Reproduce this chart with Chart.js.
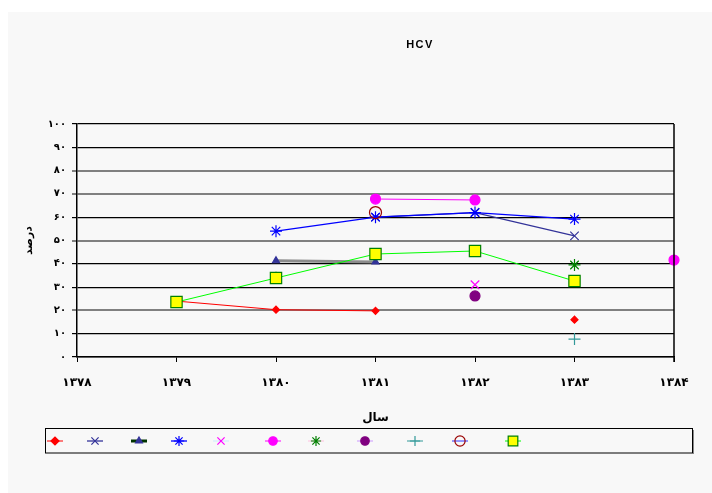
<!DOCTYPE html>
<html>
<head>
<meta charset="utf-8">
<script src="https://cdn.jsdelivr.net/npm/chart.js@4"></script>
<style>
html,body{margin:0;padding:0;background:#fff;}
#wrap{width:712px;height:493px;position:relative;}
</style>
</head>
<body>
<div id="wrap"><canvas id="c" width="712" height="493"></canvas></div>
<script>
const years = ['۱۳۷۸','۱۳۷۹','۱۳۸۰','۱۳۸۱','۱۳۸۲','۱۳۸۳','۱۳۸۴'];
const yTickLabels = {0:'۰',10:'۱۰',20:'۲۰',30:'۳۰',40:'۴۰',50:'۵۰',60:'۶۰',70:'۷۰',80:'۸۰',90:'۹۰',100:'۱۰۰'};
const chartTitle = 'HCV';
const yTitle = 'درصد';
const xTitle = 'سال';

const sRedDiamond   = [null, 24, 20.3, 19.8, null, 16, null];
const sNavyX        = [null, null, null, 60, 62, 52, null];
const sTriangle     = [null, null, 41.3, 40.8, null, null, null];
const sBlueStar     = [null, null, 54, 60, 62, 59.2, null];
const sMagentaX     = [null, null, null, null, 31, null, null];
const sMagentaDot   = [null, null, null, 67.8, 67.4, null, 41.6];
const sGreenStar    = [null, null, 34, null, null, 39.5, null];
const sPurpleDot    = [null, null, null, null, 26.2, null, null];
const sTealPlus     = [null, null, null, null, null, 7.7, null];
const sOpenCircle   = [null, null, null, 62, null, null, null];
const sYellowSquare = [null, 23.6, 33.9, 44.2, 45.5, 32.6, null];

function ds(data, o) {
  return Object.assign({
    data: data, spanGaps: false, fill: false, tension: 0,
    borderWidth: 1, pointBorderWidth: 1.2, pointHoverRadius: 0
  }, o);
}
const datasets = [
  ds(sRedDiamond,   {borderColor:'#ff0000', pointStyle:'rectRot', pointRadius:3.5, pointBackgroundColor:'#ff0000', pointBorderColor:'#ff0000'}),
  ds(sNavyX,        {borderColor:'#333399', borderWidth:1.3, pointStyle:'crossRot', pointRadius:6, pointBackgroundColor:'#333399', pointBorderColor:'#333399'}),
  ds(sTriangle,     {borderColor:'#8c8c8c', legendLine:'#003300', borderWidth:3, pointStyle:'triangle', pointRadius:4, pointBackgroundColor:'#333399', pointBorderColor:'#333399'}),
  ds(sBlueStar,     {borderColor:'#0000ff', borderWidth:1.3, pointStyle:'star', pointRadius:6, pointBackgroundColor:'#0000ff', pointBorderColor:'#0000ff'}),
  ds(sMagentaX,     {borderColor:'#cce8ff', pointStyle:'crossRot', pointRadius:6, pointBackgroundColor:'#ff00ff', pointBorderColor:'#ff00ff'}),
  ds(sMagentaDot,   {borderColor:'#ff00ff', pointStyle:'circle', pointRadius:5, pointBackgroundColor:'#ff00ff', pointBorderColor:'#ff00ff'}),
  ds(sGreenStar,    {borderColor:'#ffc0e0', pointStyle:'star', pointRadius:6, pointBackgroundColor:'#008000', pointBorderColor:'#008000'}),
  ds(sPurpleDot,    {borderColor:'#cc99ff', pointStyle:'circle', pointRadius:5, pointBackgroundColor:'#800080', pointBorderColor:'#800080'}),
  ds(sTealPlus,     {borderColor:'#339999', pointStyle:'cross', pointRadius:6, pointBackgroundColor:'#339999', pointBorderColor:'#339999'}),
  ds(sOpenCircle,   {borderColor:'#3333ff', pointStyle:'circle', pointRadius:6, pointBackgroundColor:'rgba(0,0,0,0)', pointBorderColor:'#990000'}),
  ds(sYellowSquare, {borderColor:'#00ff00', pointStyle:'rect', pointRadius:8, pointBackgroundColor:'#ffff00', pointBorderColor:'#008000'})
];
datasets.forEach((d, i) => { d.order = datasets.length - i; });

const bgPlugin = {
  id: 'bg',
  beforeDraw(chart) {
    const ctx = chart.ctx;
    ctx.save();
    ctx.fillStyle = '#f8f8f8';
    ctx.fillRect(8, 12, chart.width - 8, chart.height - 12);
    ctx.fillStyle = '#000';
    ctx.font = "bold 11px 'Liberation Sans', Arial, sans-serif";
    ctx.textAlign = 'center';
    ctx.textBaseline = 'middle';
    try { ctx.letterSpacing = '1.5px'; } catch (e) {}
    ctx.fillText(chartTitle, 420, 45);
    ctx.restore();
    try { chart.ctx.letterSpacing = '0px'; } catch (e) {}
  },
  afterDatasetsDraw(chart) {
    const a = chart.chartArea, ctx = chart.ctx;
    ctx.save();
    ctx.strokeStyle = '#000';
    ctx.lineWidth = 1.5;
    ctx.beginPath();
    ctx.moveTo(a.right, a.top); ctx.lineTo(a.right, a.bottom + 5);
    ctx.stroke();
    ctx.restore();
  }
};

const legendX = [55, 95, 139, 179, 221, 273, 316, 365, 415, 460, 513];
const legendPlugin = {
  id: 'boxLegend',
  afterDraw(chart) {
    const ctx = chart.ctx;
    ctx.save();
    ctx.strokeStyle = '#000';
    ctx.lineWidth = 1;
    ctx.strokeRect(45.5, 428.5, 647, 24.5);
    ctx.strokeStyle = '#888';
    ctx.beginPath(); ctx.moveTo(693.5, 430); ctx.lineTo(693.5, 454); ctx.stroke();
    const cy = 441;
    chart.data.datasets.forEach((d, i) => {
      const cx = legendX[i];
      ctx.strokeStyle = d.legendLine || d.borderColor;
      ctx.lineWidth = d.borderWidth;
      ctx.beginPath(); ctx.moveTo(cx - 8, cy); ctx.lineTo(cx + 8, cy); ctx.stroke();
      ctx.fillStyle = d.pointBackgroundColor;
      ctx.strokeStyle = d.pointBorderColor;
      ctx.lineWidth = d.pointBorderWidth;
      Chart.helpers.drawPoint(ctx, {pointStyle: d.pointStyle, radius: Math.max(4, d.pointRadius * 0.85), rotation: 0, borderWidth: d.pointBorderWidth}, cx, cy);
    });
    ctx.restore();
  }
};

const grayLines = [20, 50, 70, 80];
const FONT = "'DejaVu Sans', 'Noto Sans', sans-serif";

new Chart(document.getElementById('c'), {
  type: 'line',
  data: { labels: years, datasets: datasets },
  options: {
    responsive: false,
    animation: false,
    devicePixelRatio: 1,
    layout: { padding: { left: 0, right: 38, top: 124, bottom: 0 } },
    plugins: {
      legend: { display: false },
      tooltip: { enabled: false },
      title: { display: false }
    },
    scales: {
      x: {
        type: 'category', offset: false,
        grid: { drawOnChartArea: false, drawTicks: true, tickLength: 5, color: '#000', lineWidth: 1 },
        border: { display: true, color: '#000', width: 1.5 },
        ticks: { color: '#000', padding: 14, maxRotation: 0, autoSkip: false, font: { family: FONT, size: 12, weight: 'bold' } },
        title: { display: true, text: xTitle, color: '#000', font: { family: FONT, size: 12, weight: 'bold' }, padding: { top: 0, bottom: 68 } },
        afterFit(s) { s.height = 136; }
      },
      y: {
        min: 0, max: 100,
        grid: {
          drawTicks: true, tickLength: 5,
          color: c => grayLines.includes(c.tick && c.tick.value) ? '#808080' : '#000',
          lineWidth: c => grayLines.includes(c.tick && c.tick.value) ? 2 : 1.2
        },
        border: { display: true, color: '#000', width: 1.5 },
        ticks: {
          stepSize: 10, color: '#000', padding: 6,
          font: { family: FONT, size: 10, weight: 'bold' },
          callback: v => yTickLabels[v]
        },
        title: { display: true, text: yTitle, color: '#000', font: { family: FONT, size: 11, weight: 'bold' }, padding: { top: 23, bottom: 0 } },
        afterFit(s) { s.width = 77; }
      }
    }
  },
  plugins: [bgPlugin, legendPlugin]
});
</script>
</body>
</html>
